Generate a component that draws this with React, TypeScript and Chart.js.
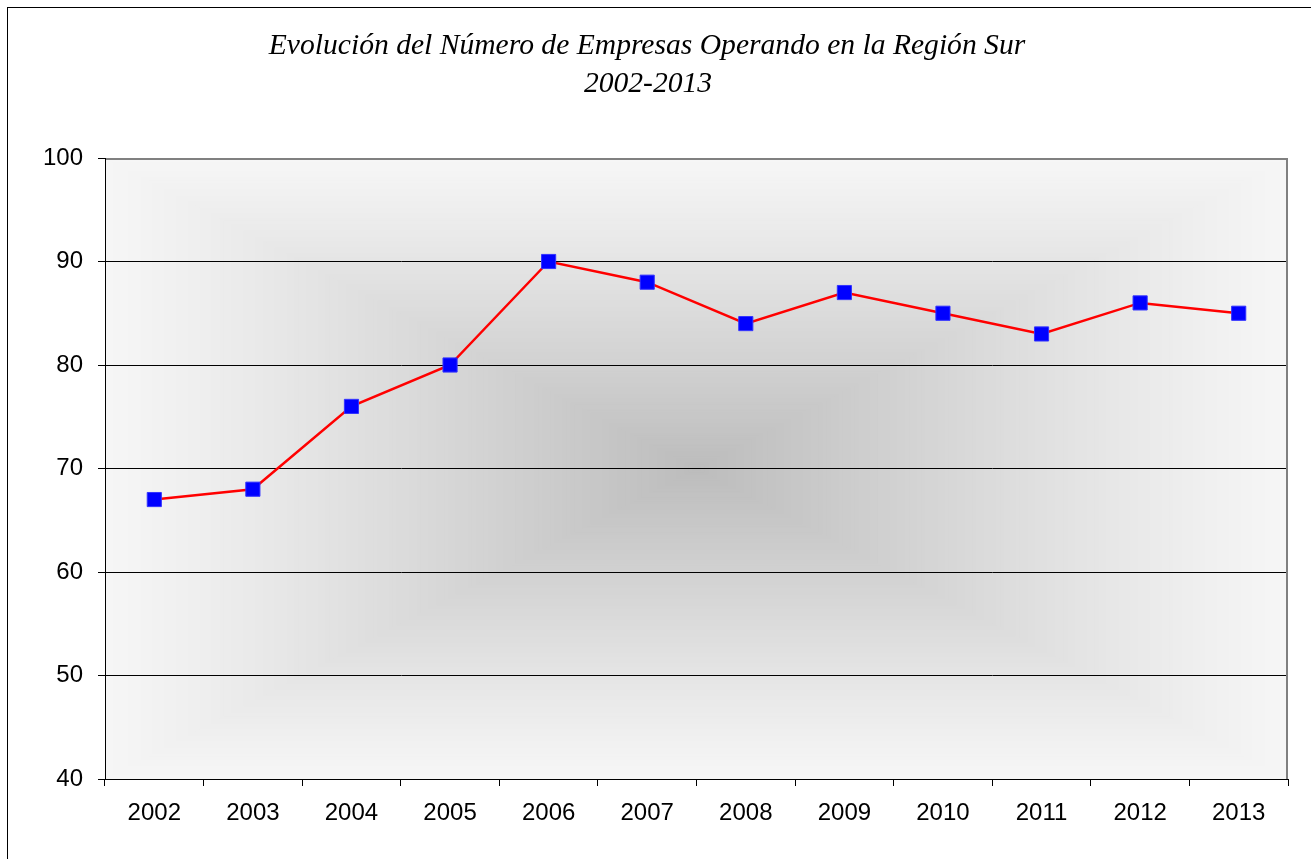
import React, { useEffect, useRef } from "react";
import { Chart, registerables } from "chart.js";

Chart.register(...registerables);

const years = ["2002", "2003", "2004", "2005", "2006", "2007", "2008", "2009", "2010", "2011", "2012", "2013"];
const empresas = [67, 68, 76, 80, 90, 88, 84, 87, 85, 83, 86, 85];
const titleLines = ["Evolución del Número de Empresas Operando en la Región Sur", "2002-2013"];
const yMin = 40;
const yMax = 100;
const yStep = 10;

function mix(a: number, b: number, t: number) {
  return Math.round(a + (b - a) * t);
}

const framePlugin = {
  id: "frameAndBg",
  beforeDraw(chart: any) {
    const ctx = chart.ctx;
    const a = chart.chartArea;
    ctx.save();
    ctx.fillStyle = "#ffffff";
    ctx.fillRect(0, 0, chart.width, chart.height);
    ctx.strokeStyle = "#000000";
    ctx.lineWidth = 1;
    ctx.strokeRect(7.5, 7.5, chart.width + 50, chart.height + 50);
    // plot background: rectangular "from center" gradient
    const w = a.right - a.left;
    const h = a.bottom - a.top;
    const steps = 150;
    for (let i = 0; i < steps; i++) {
      const t = i / steps;
      const c = mix(0xf6, 0xbc, Math.pow(t, 1.1));
      ctx.fillStyle = `rgb(${c},${c},${c})`;
      const ix = (t * w) / 2;
      const iy = (t * h) / 2;
      ctx.fillRect(a.left + ix, a.top + iy, w - 2 * ix, h - 2 * iy);
    }
    ctx.restore();
    // title
    ctx.save();
    ctx.fillStyle = "#000000";
    ctx.font = 'italic 29.6px "Liberation Serif", "Times New Roman", serif';
    ctx.textAlign = "center";
    ctx.textBaseline = "middle";
    ctx.fillText(titleLines[0], 647, 46);
    ctx.fillText(titleLines[1], 648, 84);
    ctx.restore();
  },
  afterDraw(chart: any) {
    const ctx = chart.ctx;
    const a = chart.chartArea;
    ctx.save();
    ctx.strokeStyle = "#808080";
    ctx.lineWidth = 2;
    ctx.beginPath();
    ctx.moveTo(a.left + 1, a.top + 1);
    ctx.lineTo(a.right - 1, a.top + 1);
    ctx.lineTo(a.right - 1, a.bottom);
    ctx.stroke();
    ctx.restore();
  },
};

export default function App() {
  const ref = useRef<HTMLCanvasElement>(null);
  useEffect(() => {
    if (!ref.current) return;
    const chart = new Chart(ref.current, {
      type: "line",
      data: {
        labels: years,
        datasets: [
          {
            data: empresas,
            borderColor: "#ff0000",
            borderWidth: 2.5,
            pointStyle: "rect",
            pointRadius: 10,
            pointBackgroundColor: "#0000ff",
            pointBorderColor: "#3333ff",
            pointBorderWidth: 1,
            tension: 0,
          },
        ],
      },
      options: {
        responsive: false,
        animation: false,
        layout: { padding: { top: 158, left: 0, right: 23, bottom: 0 } },
        plugins: { legend: { display: false }, title: { display: false }, tooltip: { enabled: false } },
        scales: {
          x: {
            offset: true,
            afterFit: (s: any) => {
              s.height = 80;
            },
            grid: { offset: true, drawOnChartArea: false, drawTicks: true, tickLength: 7, tickColor: "#000000" },
            border: { display: true, color: "#000000", width: 1 },
            ticks: { color: "#000000", padding: 13, font: { family: '"Liberation Sans", Arial, sans-serif', size: 24 } },
          },
          y: {
            min: yMin,
            max: yMax,
            afterFit: (s: any) => {
              s.width = 105;
            },
            grid: {
              color: (c: any) => (c.tick && c.tick.value === yMax ? "rgba(0,0,0,0)" : "#000000"),
              lineWidth: 1,
              drawTicks: true,
              tickLength: 7,
              tickColor: "#000000",
            },
            border: { display: true, color: "#000000", width: 1 },
            ticks: { stepSize: yStep, color: "#000000", padding: 15, font: { family: '"Liberation Sans", Arial, sans-serif', size: 24 } },
          },
        },
      },
      plugins: [framePlugin],
    });
    return () => chart.destroy();
  }, []);
  return (
    <div style={{ position: "absolute", left: 0, top: 0, width: 1311, height: 859 }}>
      <canvas ref={ref} width={1311} height={859} />
    </div>
  );
}
